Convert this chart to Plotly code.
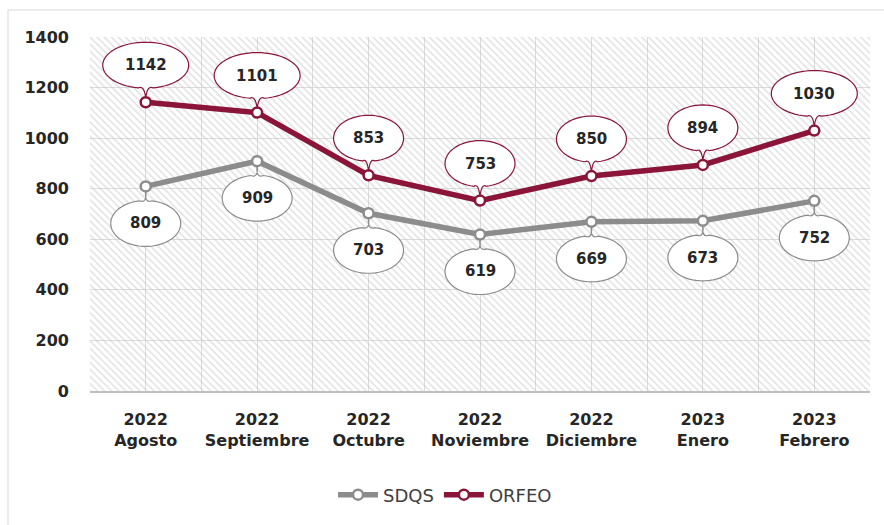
import math
import plotly.graph_objects as go

# Monthly counts per system
years = ["2022", "2022", "2022", "2022", "2022", "2023", "2023"]
months = ["Agosto", "Septiembre", "Octubre", "Noviembre", "Diciembre", "Enero", "Febrero"]
sdqs = [809, 909, 703, 619, 669, 673, 752]
orfeo = [1142, 1101, 853, 753, 850, 894, 1030]
y_ticks = [0, 200, 400, 600, 800, 1000, 1200, 1400]

RED = "#8A1538"
GRAY = "#8C8C8C"
FONT = "DejaVu Sans"

x_pos = list(range(len(months)))
tick_text = [f"{y}<br>{m}" for y, m in zip(years, months)]

# plot area geometry in pixels
W, H = 884, 525
ML, MR, MT, MB = 90, 14, 37, 134
PW, PH = W - ML - MR, H - MT - MB


def bubble_path(label, offset):
    """Speech bubble outline in pixel offsets from its data point."""
    rx = 43 if len(label) >= 4 else 35
    ry = 23
    sgn = 1 if offset > 0 else -1
    base = -90 if offset > 0 else 90  # side of the ellipse facing the point
    gap = 10
    pts = []
    n = 60
    for k in range(n + 1):
        t = math.radians(base + gap + (360 - 2 * gap) * k / n)
        pts.append((rx * math.cos(t), offset + ry * math.sin(t)))
    tip = (0, sgn * 4)
    d = f"M {tip[0]:.2f},{tip[1]:.2f} "
    x0, y0 = pts[0]
    d += f"Q {1.5:.2f},{offset - sgn * ry * 0.85:.2f} {x0:.2f},{y0:.2f} "
    for x, y in pts[1:]:
        d += f"L {x:.2f},{y:.2f} "
    d += f"Q {-1.5:.2f},{offset - sgn * ry * 0.85:.2f} {tip[0]:.2f},{tip[1]:.2f} Z"
    return d


fig = go.Figure()

# hatched plot background
fig.add_trace(go.Scatter(
    x=[-0.5, 6.5, 6.5, -0.5, -0.5],
    y=[0, 0, y_ticks[-1], y_ticks[-1], 0],
    mode="lines", line=dict(width=0), fill="toself",
    fillcolor="rgba(0,0,0,0)",
    fillpattern=dict(shape="\\", fgcolor="#c4c4c4", bgcolor="rgba(0,0,0,0)",
                     size=5, solidity=0.3),
    showlegend=False, hoverinfo="skip",
))

fig.add_trace(go.Scatter(
    x=x_pos, y=sdqs, name="SDQS", mode="lines+markers",
    line=dict(color=GRAY, width=5.5),
    marker=dict(symbol="circle", size=10, color="white",
                line=dict(color=GRAY, width=2.5)),
))
fig.add_trace(go.Scatter(
    x=x_pos, y=orfeo, name="ORFEO", mode="lines+markers",
    line=dict(color=RED, width=5.5),
    marker=dict(symbol="circle", size=10, color="white",
                line=dict(color=RED, width=2.5)),
))

shapes = []
annotations = []
for series, color, off in ((orfeo, RED, 37), (sdqs, GRAY, -37)):
    for i, v in enumerate(series):
        label = str(v)
        shapes.append(dict(
            type="path", xref="x", yref="y",
            xsizemode="pixel", ysizemode="pixel",
            xanchor=i, yanchor=v,
            path=bubble_path(label, off),
            fillcolor="white", line=dict(color=color, width=1.2),
            layer="above",
        ))
        annotations.append(dict(
            x=i, y=v, xref="x", yref="y", text=f"<b>{label}</b>",
            showarrow=False, yshift=off,
            font=dict(family=FONT, size=15, color="#262626"),
        ))

# outer chart frame
shapes.append(dict(
    type="rect", xref="paper", yref="paper",
    x0=(8 - ML) / PW, x1=(W + 10 - ML) / PW,
    y0=(MT + PH - (H + 10)) / PH, y1=(MT + PH - 10) / PH,
    line=dict(color="#d9d9d9", width=1), fillcolor="rgba(0,0,0,0)",
    layer="below",
))

fig.update_layout(
    width=W, height=H,
    margin=dict(l=ML, r=MR, t=MT, b=MB),
    paper_bgcolor="white", plot_bgcolor="white",
    shapes=shapes, annotations=annotations,
    font=dict(family=FONT, color="#262626"),
    legend=dict(
        orientation="h", x=(445 - ML) / PW, xanchor="center",
        y=(MT + PH - 495) / PH, yanchor="middle",
        font=dict(family=FONT, size=18, color="#404040"),
        itemwidth=40,
    ),
    showlegend=True,
)

fig.update_xaxes(
    range=[-0.5, 6.5], tickmode="array", tickvals=x_pos, ticktext=tick_text,
    tickfont=dict(family=FONT, size=16, color="#262626", weight="bold"),
    showgrid=True, gridcolor="#dcdcdc", gridwidth=1,
    minor=dict(tickmode="array", tickvals=[i - 0.5 for i in range(8)],
               showgrid=True, gridcolor="#dcdcdc", gridwidth=1, ticks=""),
    showline=True, linecolor="#bfbfbf", linewidth=1.5,
    ticks="", zeroline=False, ticklabelstandoff=13,
)
fig.update_yaxes(
    range=[0, 1400], tickmode="array", tickvals=y_ticks,
    tickfont=dict(family=FONT, size=16, color="#262626", weight="bold"),
    showgrid=True, gridcolor="#dcdcdc", gridwidth=1,
    zeroline=False, showline=False, ticks="", ticklabelstandoff=20,
)

fig.write_html("out.html")
